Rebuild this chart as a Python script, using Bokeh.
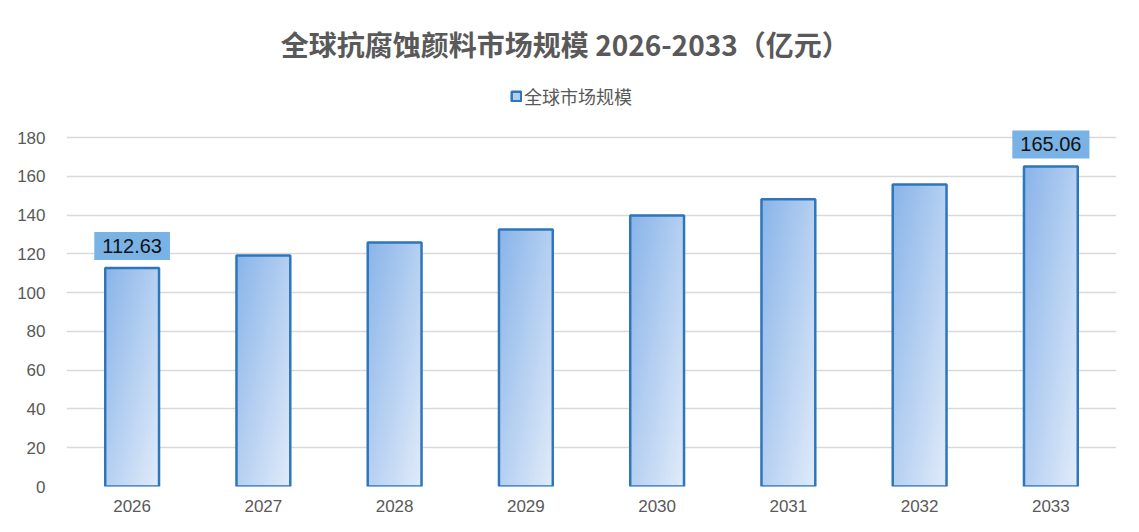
import numpy as np
from bokeh.plotting import figure
from bokeh.models import ColumnDataSource, FixedTicker, Legend, LegendItem, Range1d, Label
from bokeh.core.properties import value
from bokeh.embed import file_html
from bokeh.resources import INLINE

# data
years = ["2026", "2027", "2028", "2029", "2030", "2031", "2032", "2033"]
market_size = [112.63, 119.2, 125.8, 132.6, 139.8, 148.1, 155.8, 165.06]
labelled_years = ["2026", "2033"]
y_ticks = [0, 20, 40, 60, 80, 100, 120, 140, 160, 180]

title_text = "全球抗腐蚀颜料市场规模 2026-2033（亿元）"
series_name = "全球市场规模"

GREY = "#595959"
CJK = "Noto Sans CJK SC"
LATIN = "Liberation Sans"

xs = list(range(len(years)))
bar_w = 0.41

# frame covers the canvas from the top; the value axis only ticks to 180,
# the space above is used for title and legend
PX_PER_UNIT = 349 / 180
Y_TOP = 180 + 137 / PX_PER_UNIT


def diagonal_gradient(n=48):
    # dark blue at top-left fading to pale blue at bottom-right
    u = np.linspace(0, 1, n)
    v = np.linspace(0, 1, n)  # row 0 = bottom
    U, V = np.meshgrid(u, v)
    t = (U + (1 - V)) / 2
    c0 = np.array([0x8a, 0xb5, 0xea])
    c1 = np.array([0xe2, 0xec, 0xfa])
    rgb = c0 + (c1 - c0) * t[..., None]
    img = np.empty((n, n), dtype=np.uint32)
    view = img.view(dtype=np.uint8).reshape((n, n, 4))
    view[..., 0] = rgb[..., 0]
    view[..., 1] = rgb[..., 1]
    view[..., 2] = rgb[..., 2]
    view[..., 3] = 255
    return img


src = ColumnDataSource(dict(
    x=xs,
    left=[x - bar_w / 2 for x in xs],
    top=market_size,
    img=[diagonal_gradient() for _ in xs],
))

lab_idx = [years.index(y) for y in labelled_years]
lab_src = ColumnDataSource(dict(
    x=[xs[i] for i in lab_idx],
    y=[market_size[i] for i in lab_idx],
    txt=["%.2f" % market_size[i] for i in lab_idx],
))

p = figure(width=1123, height=516, output_backend="svg", toolbar_location=None,
           x_range=Range1d(-0.5, len(years) - 0.5), y_range=Range1d(0, Y_TOP),
           min_border_left=66, min_border_right=7, min_border_bottom=30,
           min_border_top=0)

p.outline_line_color = None
p.background_fill_color = "white"
p.border_fill_color = "white"

base = p.vbar(x="x", top="top", width=bar_w, bottom=0, source=src,
              fill_color="#b3cdf0", line_color=None)
p.image_rgba(image="img", x="left", y=0, dw=bar_w, dh="top", source=src)
outline = p.vbar(x="x", top="top", width=bar_w, bottom=0, source=src,
                 fill_alpha=0, line_color="#2e76bc", line_width=2.5)

p.text(x="x", y="y", text="txt", source=lab_src, text_align="center",
       text_baseline="middle", y_offset=-22, text_font=value(LATIN),
       text_font_size="20px", text_color="#111111",
       background_fill_color="#79b3e5", padding=(8, 7))

p.add_layout(Label(x=3.3, y=180 + 94 / PX_PER_UNIT, text=title_text,
                   text_align="center", text_baseline="middle",
                   text_font=CJK, text_font_size="28px", text_font_style="bold",
                   text_color=GREY))

# axes
p.xaxis.ticker = FixedTicker(ticks=xs)
p.xaxis.major_label_overrides = {x: y for x, y in zip(xs, years)}
p.yaxis.ticker = FixedTicker(ticks=y_ticks)
for ax in (p.xaxis[0], p.yaxis[0]):
    ax.axis_line_color = None
    ax.major_tick_line_color = None
    ax.major_tick_out = 0
    ax.major_tick_in = 0
    ax.minor_tick_line_color = None
    ax.major_label_text_font = LATIN
    ax.major_label_text_font_size = "17px"
    ax.major_label_text_color = GREY
p.yaxis.major_label_standoff = 21
p.xaxis.major_label_standoff = 13

p.xgrid.grid_line_color = None
p.ygrid.grid_line_color = "#d9d9d9"
p.ygrid.grid_line_width = 1.5

legend = Legend(items=[LegendItem(label=series_name, renderers=[base, outline])],
                orientation="horizontal", location=(444, 377),
                border_line_alpha=0, background_fill_alpha=0,
                label_text_font=CJK, label_text_font_size="18px",
                label_text_color=GREY, glyph_width=12, glyph_height=12,
                label_standoff=2, padding=0, margin=0)
p.add_layout(legend)

open("out.html", "w").write(file_html(p, INLINE))
